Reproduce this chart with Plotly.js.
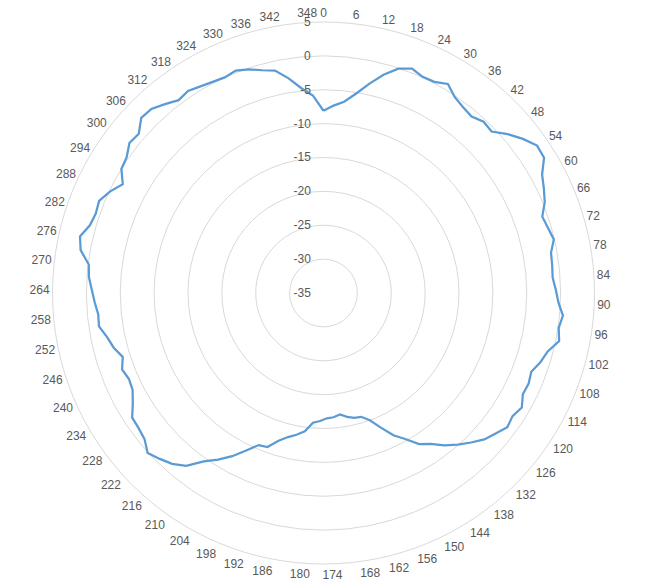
<!DOCTYPE html>
<html>
<head>
<meta charset="utf-8">
<script src="https://cdn.plot.ly/plotly-3.0.1.min.js"></script>
<style>html,body{margin:0;padding:0;background:#fff;}#chart{width:646px;height:582px;}</style>
</head>
<body>
<div id="chart"></div>
<script>
// Angle categories (degrees, 3° steps, 0..348)
const categories = ['0','3','6','9','12','15','18','21','24','27','30','33','36','39','42','45','48','51','54','57',
  '60','63','66','69','72','75','78','81','84','87','90','93','96','99','102','105','108','111','114','117',
  '120','123','126','129','132','135','138','141','144','147','150','153','156','159','162','165','168','171','174','177',
  '180','183','186','189','192','195','198','201','204','207','210','213','216','219','222','225','228','231','234','237',
  '240','243','246','249','252','255','258','261','264','267','270','273','276','279','282','285','288','291','294','297',
  '300','303','306','309','312','315','318','321','324','327','330','333','336','339','342','345','348'];

// Labeled categories (every 6°)
const tickLabels = ['0','6','12','18','24','30','36','42','48','54','60','66','72','78','84','90','96','102','108','114',
  '120','126','132','138','144','150','156','162','168','174','180','186','192','198','204','210','216','222','228','234',
  '240','246','252','258','264','270','276','282','288','294','300','306','312','318','324','330','336','342','348'];

// Series values (dB)
const values = [-8.1,-7.3,-6.6,-5.2,-3.4,-1.6,-0.1,0.6,0.1,0.2,
  0.9,-0.2,-0.7,-1.0,-0.4,-0.6,0.9,2.2,3.3,3.2,
  1.7,1.0,0.3,-0.8,-0.5,-0.1,-0.9,-1.0,-1.1,-0.7,
  -0.3,0.5,0.1,0.5,-0.8,-1.4,-2.2,-1.9,-2.0,-1.2,
  -1.7,-1.4,-2.2,-2.9,-4.0,-5.1,-6.3,-7.7,-8.6,-10.3,
  -11.6,-13.4,-15.0,-15.9,-16.0,-16.4,-16.9,-16.6,-16.5,-16.1,
  -15.8,-14.4,-13.7,-13.1,-12.2,-10.8,-10.6,-9.1,-7.4,-5.9,
  -4.5,-2.4,-1.3,-0.6,0.1,-0.9,-1.2,-1.3,-2.5,-3.4,
  -3.6,-3.2,-3.9,-3.0,-2.4,-1.5,-1.6,-1.2,-0.8,-0.3,
  -0.1,1.4,1.9,0.9,0.6,0.8,-0.1,-1.3,0.0,0.3,
  1.2,1.0,2.3,2.2,1.4,0.6,0.9,0.5,0.2,0.0,
  0.3,-0.2,-0.9,-1.4,-2.9,-4.6,-5.8];

const radialTicks = [-35,-30,-25,-20,-15,-10,-5,0,5];

const W = 646, H = 582, cx = 323.5, cy = 293, R = 271;

// Labels next to the vertical line are set off from it, as in the reference
const NB = '\u00a0';
const tickText = tickLabels.map(function (t) {
  if (t === '348' || t === '180') return t + NB;
  if (t === '174') return NB + t;
  return t;
});

const trace = {
  type: 'scatterpolar',
  mode: 'lines',
  r: values.concat([values[0]]),
  theta: categories.concat([categories[0]]),
  line: {color: '#5b9bd5', width: 2.25},
  hoverinfo: 'skip',
  showlegend: false
};

const layout = {
  width: W, height: H,
  margin: {l: 0, r: 0, t: 0, b: 0},
  paper_bgcolor: '#ffffff',
  plot_bgcolor: '#ffffff',
  showlegend: false,
  font: {family: 'Liberation Sans, Arial, sans-serif', size: 12, color: '#595959'},
  polar: {
    domain: {x: [(cx - R) / W, (cx + R) / W], y: [(H - cy - R) / H, (H - cy + R) / H]},
    bgcolor: '#ffffff',
    radialaxis: {
      range: [-35, 5],
      tickmode: 'array',
      tickvals: radialTicks,
      ticktext: radialTicks.map(String),
      angle: 90,
      side: 'counterclockwise',
      tickangle: 90,
      showline: false,
      ticks: 'outside',
      ticklen: 8,
      tickcolor: 'rgba(0,0,0,0)',
      gridcolor: '#d9d9d9',
      gridwidth: 1,
      tickfont: {size: 12, color: '#595959'}
    },
    angularaxis: {
      type: 'category',
      categoryorder: 'array',
      categoryarray: categories,
      direction: 'clockwise',
      rotation: 90,
      tickmode: 'array',
      tickvals: tickLabels,
      ticktext: tickText,
      showgrid: false,
      showline: true,
      linecolor: '#d9d9d9',
      linewidth: 1,
      ticks: '',
      tickfont: {size: 12, color: '#595959'}
    }
  }
};

Plotly.newPlot('chart', [trace], layout, {displayModeBar: false, staticPlot: true});
</script>
</body>
</html>
